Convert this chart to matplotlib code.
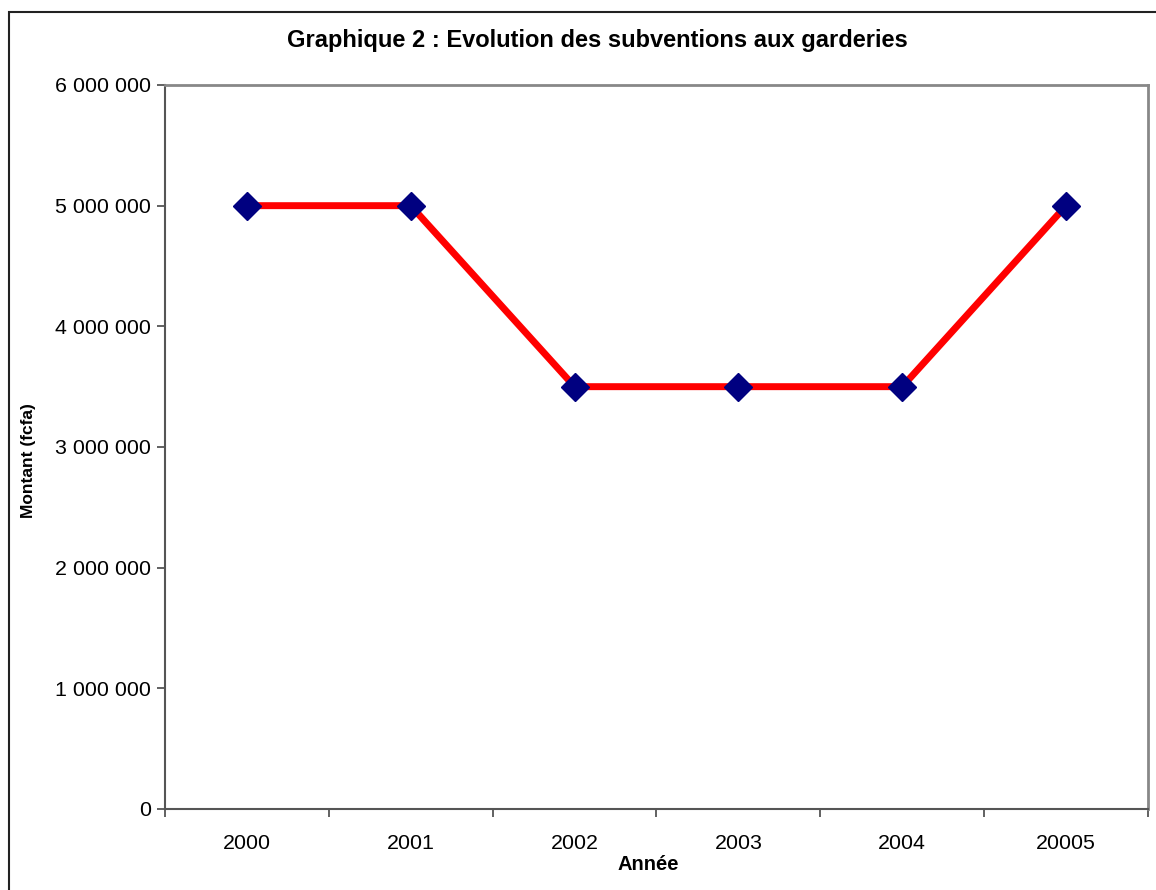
import matplotlib
matplotlib.use('Agg')
import matplotlib.pyplot as plt
import matplotlib.ticker as ticker
from matplotlib.patches import Rectangle

years = ['2000', '2001', '2002', '2003', '2004', '20005']
montant = [5000000, 5000000, 3500000, 3500000, 3500000, 5000000]
yticks = [0, 1000000, 2000000, 3000000, 4000000, 5000000, 6000000]

plt.rcParams['font.family'] = ['Liberation Sans', 'DejaVu Sans']

fig = plt.figure(figsize=(11.56, 8.90), dpi=100)
ax = fig.add_axes([165/1156, 1-809/890, (1148-165)/1156, (809-85)/890])

# outer chart border (only top and left visible in the picture)
fig.add_artist(Rectangle((8.5/1156, -0.1), 1.2, (890-12)/890 + 0.1, transform=fig.transFigure,
                         fill=False, edgecolor='#222222', linewidth=1.5))

x = range(len(years))
ax.plot(x, montant, color='#ff0000', linewidth=5, zorder=2)
ax.plot(x, montant, linestyle='None', marker='D', markersize=14,
        markerfacecolor='#000080', markeredgecolor='#000080', zorder=3)

ax.set_xlim(-0.5, len(years) - 0.5)
ax.set_ylim(0, 6000000)
ax.set_yticks(yticks)
ax.yaxis.set_major_formatter(ticker.FuncFormatter(lambda v, p: '{:,.0f}'.format(v).replace(',', ' ')))
ax.set_xticks([i for i in x])
ax.set_xticklabels(years)
ax.xaxis.set_minor_locator(ticker.FixedLocator([i - 0.5 for i in range(len(years) + 1)]))
ax.tick_params(axis='x', which='major', length=0, labelsize=15.4, pad=18)
ax.tick_params(axis='x', which='minor', length=6, width=1.3, color='#555555', direction='out')
ax.tick_params(axis='y', length=6, width=1.3, color='#555555', labelsize=15.4, pad=4)

for s in ['top', 'right']:
    ax.spines[s].set_color('#888888')
    ax.spines[s].set_linewidth(2)
for s in ['left', 'bottom']:
    ax.spines[s].set_color('#555555')
    ax.spines[s].set_linewidth(1.5)

ax.set_xlabel('Année', fontsize=14.5, fontweight='bold')
ax.xaxis.set_label_coords((648-165)/983, (809-855)/724)
ax.set_ylabel('Montant (fcfa)', fontsize=12.5, fontweight='bold')
ax.yaxis.set_label_coords((36-165)/983, (809-461)/724)
fig.text(597/1156, 1-41/890, 'Graphique 2 : Evolution des subventions aux garderies',
         ha='center', va='center', fontsize=17, fontweight='bold')

fig.savefig('out.png', dpi=100)
